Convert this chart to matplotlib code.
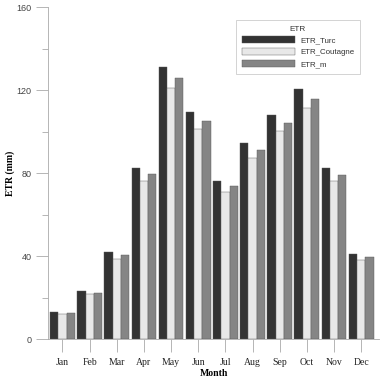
import matplotlib
matplotlib.use("Agg")
import matplotlib.pyplot as plt
import numpy as np
from matplotlib.ticker import MultipleLocator

months = ["Jan", "Feb", "Mar", "Apr", "May", "Jun", "Jul", "Aug", "Sep", "Oct", "Nov", "Dec"]
etr_turc = [13.3, 23.3, 42.1, 82.6, 131.1, 109.4, 76.3, 94.6, 108.3, 120.6, 82.4, 41.1]
etr_coutagne = [12.3, 21.8, 38.8, 76.4, 121.1, 101.3, 70.8, 87.5, 100.2, 111.5, 76.3, 38.2]
etr_m = [12.8, 22.3, 40.5, 79.7, 126.1, 105.4, 73.7, 91.1, 104.2, 116.0, 79.3, 39.7]

series = [
    ("ETR_Turc", etr_turc, "#333333"),
    ("ETR_Coutagne", etr_coutagne, "#e8e8e8"),
    ("ETR_m", etr_m, "#858585"),
]

fig = plt.figure(figsize=(3.81, 3.79), dpi=100)
ax = fig.add_axes([48 / 381, 1 - 339.3 / 379, 331 / 381, 332 / 379])

x = np.arange(len(months))
width = 0.305
for i, (name, vals, color) in enumerate(series):
    ax.bar(x + (i - 1) * width, vals, width, color=color, label=name,
           edgecolor="#555555", linewidth=0.3)

ax.set_xlim(-0.534, 11.66)
ax.set_ylim(0, 160)
ax.yaxis.set_major_locator(MultipleLocator(40))
ax.yaxis.set_minor_locator(MultipleLocator(20))
ax.set_xticks(x)
ax.set_xticklabels(months, family="Liberation Serif", fontsize=7, color="#222222")

for side in ("top", "right"):
    ax.spines[side].set_visible(False)
for side in ("left", "bottom"):
    ax.spines[side].set_color("#aaaaaa")
    ax.spines[side].set_linewidth(0.6)

ax.tick_params(axis="y", which="major", length=9, width=0.6, color="#aaaaaa",
               labelsize=6.5, labelcolor="#444444", pad=3)
ax.tick_params(axis="y", which="minor", length=4.5, width=0.6, color="#aaaaaa")
ax.tick_params(axis="x", which="major", length=9, width=0.6, color="#aaaaaa", pad=4.5)
for lab in ax.get_yticklabels():
    lab.set_family("Liberation Sans")

ax.set_ylabel("ETR (mm)", family="Liberation Serif", fontweight="bold", fontsize=7)
ax.yaxis.set_label_coords(-0.10, 0.5)
ax.set_xlabel("Month", family="Liberation Serif", fontweight="bold", fontsize=7, labelpad=1.5)

leg = ax.legend(title="ETR", loc="upper left", bbox_to_anchor=(236 / 381, 1 - 20 / 379),
                bbox_transform=fig.transFigure, borderaxespad=0,
                handlelength=6.7, handleheight=1.0, fancybox=False, framealpha=1,
                edgecolor="#cccccc", borderpad=0.7, labelspacing=0.45, handletextpad=0.7,
                prop={"family": "Liberation Sans", "size": 5.7}, title_fontsize=5.9)
leg.get_frame().set_linewidth(0.6)
leg.get_title().set_family("Liberation Sans")
leg.get_title().set_color("#333333")
for t in leg.get_texts():
    t.set_color("#333333")

fig.savefig("out.png", dpi=100)
